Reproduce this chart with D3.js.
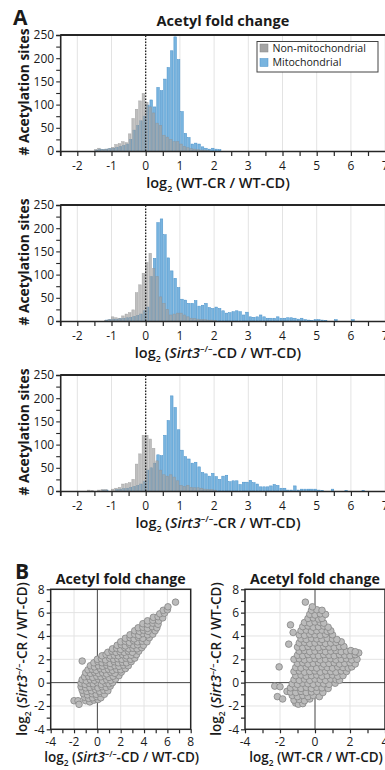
<!DOCTYPE html>
<html><head><meta charset="utf-8">
<script src="https://cdn.jsdelivr.net/npm/d3@7"></script>
<style>
body{margin:0;background:#fff}
svg{display:block}
text{font-family:"Open Sans",sans-serif;fill:#1a1a1a}
</style>
</head><body>
<svg id="chart" width="385" height="770"></svg>
<script>
// ---------- DATA ----------
// histogram bins: width 0.1, first bin centre at -1.65
const binStart = -1.65;
const binWidth = 0.1;
const seriesNames = ["Non-mitochondrial", "Mitochondrial"];
const histXTicks = [-2, -1, 0, 1, 2, 3, 4, 5, 6, 7];
const histYTicks = [0, 50, 100, 150, 200, 250];

// Panel 1: log2(WT-CR / WT-CD)
const wtcrNonMito = [0,0,3,6,3,4,5,8,14,16, 20,18,37,70,90,108,124,105,95,82, 60,55,34,30,25,20,20,15,10,7, 5,4,3,2,2,1];
const wtcrMito    = [0,0,2,4,3,4,5,6,8,10, 12,15,25,45,55,65,75,99,110,95, 137,130,155,180,216,246,197,85,38,29, 15,17,15,9,6,4,6,4,3];

// Panel 2: log2(Sirt3-/- CD / WT-CD)
const sirtcdNonMito = [0,0,0,0,0,1,3,9,7,6, 11,15,18,24,61,78,103,126,146,113, 96,52,38,25,13,15,17,17,13,9, 6,5,4,3,3,2,2,1];
const sirtcdMito    = [0,0,0,0,0,2,3,4,4,5, 6,7,8,10,12,15,22,30,96,135, 212,220,186,136,108,92,72,47,45,38, 38,44,32,34,38,29,27,30,27,22, 17,18,20,22,20,13,19,9,8,9, 13,9,6,6,6,9,6,6,7,7, 6,4,6,3,2,1,3,3,2,1, 0,0,3,0,0,0,0,3];

// Panel 3: log2(Sirt3-/- CR / WT-CD)
const sirtcrNonMito = [2,1,0,2,3,3,0,4,6,8, 15,16,18,25,58,80,120,120,112,92, 65,45,35,32,35,30,22,12,10,12, 8,7,7,6,4,3,3,2];
const sirtcrMito    = [0,0,0,0,2,2,0,0,3,4, 5,6,8,10,12,15,20,45,50,60, 78,76,120,152,205,180,132,88,74,69, 60,62,52,40,37,32,38,31,25,32, 34,20,22,22,14,19,19,23,18,15, 9,9,9,11,14,12,6,6,2,2, 11,2,4,4,4,4,4,2,1,0, 0,4,0,0,0,1,0,0,0,0, 1];

// Scatter B-left: x = log2(Sirt3-/- CD / WT-CD), y = log2(Sirt3-/- CR / WT-CD)
const scatterCD = [
[-2.0,-1.55],[-1.66,-1.55],[-1.57,-1.86],[-1.3,1.85],
[-1.0,-1.55],[-0.65,-1.65],[-0.3,-1.5],[0.05,-1.45],
[-1.1,-1.25],[-0.75,-1.35],[-0.4,-1.3],[-0.05,-1.2],[0.3,-1.3],
[-1.2,-0.95],[-0.85,-1.05],[-0.45,-0.95],[-0.1,-1.0],[0.25,-0.9],[0.6,-1.0],
[-1.3,-0.65],[-0.9,-0.75],[-0.5,-0.7],[-0.15,-0.6],[0.2,-0.75],[0.55,-0.65],[0.9,-0.7],
[-1.4,-0.35],[-1.0,-0.45],[-0.65,-0.4],[-0.3,-0.3],[0.05,-0.45],[0.4,-0.35],[0.75,-0.4],[1.1,-0.3],
[-1.4,-0.05],[-1.05,-0.15],[-0.7,-0.05],[-0.35,-0.1],[0.0,0.0],[0.35,-0.15],[0.7,-0.05],[1.0,-0.1],[1.3,0.0],
[-1.3,0.25],[-0.95,0.15],[-0.6,0.25],[-0.25,0.2],[0.1,0.3],[0.45,0.15],[0.8,0.25],[1.15,0.2],[1.55,0.3],
[-1.1,0.5],[-0.75,0.55],[-0.4,0.45],[-0.05,0.55],[0.3,0.5],[0.65,0.6],[1.0,0.45],[1.35,0.55],[1.85,0.6],
[-1.0,0.85],[-0.6,0.8],[-0.25,0.9],[0.1,0.8],[0.45,0.85],[0.8,0.75],[1.15,0.9],[1.5,0.8],[2.05,0.9],
[-0.8,1.1],[-0.45,1.15],[-0.1,1.05],[0.25,1.2],[0.6,1.1],[0.95,1.15],[1.3,1.05],[1.65,1.15],[2.0,1.1],[2.4,1.2],
[-0.6,1.45],[-0.25,1.35],[0.1,1.45],[0.45,1.4],[0.8,1.5],[1.15,1.35],[1.5,1.45],[1.85,1.4],[2.25,1.5],[2.65,1.45],
[-0.3,1.7],[0.05,1.8],[0.4,1.7],[0.75,1.75],[1.1,1.65],[1.45,1.8],[1.8,1.7],[2.15,1.75],[2.5,1.7],[2.9,1.8],
[0.0,2.0],[0.35,2.05],[0.7,1.95],[1.05,2.1],[1.4,2.0],[1.75,2.05],[2.1,2.0],[2.45,2.1],[2.85,2.0],[3.2,2.1],
[0.4,2.3],[0.75,2.4],[1.1,2.3],[1.45,2.35],[1.8,2.3],[2.15,2.4],[2.5,2.3],[2.9,2.35],[3.35,2.4],
[0.9,2.6],[1.25,2.7],[1.6,2.6],[1.95,2.65],[2.3,2.6],[2.65,2.7],[3.0,2.6],[3.55,2.7],
[1.3,2.9],[1.65,2.95],[2.0,2.85],[2.35,3.0],[2.7,2.9],[3.05,2.95],[3.4,2.9],[3.8,3.0],
[1.7,3.2],[2.05,3.25],[2.4,3.15],[2.75,3.3],[3.1,3.2],[3.45,3.25],[3.95,3.2],
[2.0,3.5],[2.4,3.55],[2.75,3.45],[3.1,3.6],[3.45,3.5],[3.85,3.55],[4.25,3.5],
[2.4,3.8],[2.8,3.85],[3.15,3.75],[3.5,3.9],[3.9,3.8],[4.45,3.85],
[2.8,4.1],[3.2,4.15],[3.55,4.05],[3.9,4.2],[4.3,4.1],[4.75,4.15],
[3.2,4.45],[3.6,4.4],[3.95,4.5],[4.35,4.4],[4.95,4.45],
[3.5,4.7],[3.9,4.75],[4.3,4.65],[4.7,4.8],[5.1,4.7],
[3.9,5.05],[4.3,5.0],[4.75,5.1],[5.2,5.0],
[4.3,5.3],[4.75,5.35],[5.25,5.3],
[4.8,5.6],[5.2,5.65],[5.6,5.55],
[5.35,5.9],[5.75,5.95],[5.65,6.2],[6.0,6.25],[6.05,6.5],[6.7,6.9]
];

// Scatter B-right: x = log2(WT-CR / WT-CD), y = log2(Sirt3-/- CR / WT-CD)
const scatterWT = [
[-2.3,-0.3],[-2.0,-0.35],[-2.05,1.35],[-2.15,-1.2],[-1.85,-1.4],[-1.6,-0.75],[-1.5,3.3],[-1.4,4.95],[-1.25,4.3],
[-1.1,-1.75],[-0.95,-1.85],[-0.7,-1.8],
[-1.2,-1.5],[-0.9,-1.45],[-0.6,-1.55],[-0.3,-1.4],
[-1.3,-1.1],[-1.0,-1.2],[-0.7,-1.1],[-0.4,-1.2],[-0.1,-1.1],[0.25,-1.2],
[-1.4,-0.8],[-1.1,-0.85],[-0.8,-0.75],[-0.5,-0.85],[-0.2,-0.8],[0.1,-0.75],[0.45,-0.85],
[-1.4,-0.45],[-1.1,-0.4],[-0.8,-0.5],[-0.5,-0.4],[-0.2,-0.5],[0.1,-0.4],[0.4,-0.45],[0.75,-0.5],
[-1.3,-0.1],[-1.0,-0.15],[-0.7,-0.05],[-0.4,-0.1],[-0.1,-0.15],[0.2,-0.05],[0.5,-0.1],[0.8,-0.15],[1.15,-0.05],
[-1.2,0.25],[-0.9,0.2],[-0.6,0.3],[-0.3,0.2],[0.0,0.3],[0.3,0.25],[0.6,0.2],[0.9,0.3],[1.2,0.25],[1.4,0.2],
[-1.1,0.6],[-0.8,0.65],[-0.5,0.55],[-0.2,0.6],[0.1,0.65],[0.4,0.55],[0.7,0.6],[1.0,0.65],[1.3,0.55],[1.6,0.6],
[-1.2,0.95],[-0.9,1.0],[-0.6,0.9],[-0.3,0.95],[0.0,1.0],[0.3,0.9],[0.6,1.0],[0.9,0.95],[1.2,0.9],[1.5,1.0],[1.8,0.95],
[-1.1,1.3],[-0.8,1.25],[-0.5,1.35],[-0.2,1.3],[0.1,1.25],[0.4,1.35],[0.7,1.3],[1.0,1.25],[1.3,1.35],[1.6,1.3],[1.9,1.25],[2.1,1.35],
[-1.0,1.65],[-0.7,1.7],[-0.4,1.6],[-0.1,1.65],[0.2,1.7],[0.5,1.6],[0.8,1.65],[1.1,1.7],[1.4,1.6],[1.7,1.65],[2.0,1.7],[2.3,1.6],
[-1.2,2.0],[-0.9,2.05],[-0.6,1.95],[-0.3,2.0],[0.0,2.05],[0.3,1.95],[0.6,2.0],[0.9,2.05],[1.2,1.95],[1.5,2.0],[1.8,2.05],[2.1,1.95],[2.4,2.0],
[-1.0,2.35],[-0.7,2.3],[-0.4,2.4],[-0.1,2.35],[0.2,2.3],[0.5,2.4],[0.8,2.35],[1.1,2.3],[1.4,2.4],[1.7,2.35],[2.0,2.3],[2.3,2.4],[2.5,2.55],
[-0.9,2.7],[-0.6,2.75],[-0.3,2.65],[0.0,2.7],[0.3,2.75],[0.6,2.65],[0.9,2.7],[1.2,2.75],[1.5,2.65],[1.8,2.7],[2.05,2.75],[2.3,2.65],
[-1.0,3.05],[-0.7,3.0],[-0.4,3.1],[-0.1,3.05],[0.2,3.0],[0.5,3.1],[0.8,3.05],[1.1,3.0],[1.4,3.1],[1.65,3.1],
[-0.9,3.4],[-0.6,3.45],[-0.3,3.35],[0.0,3.4],[0.3,3.45],[0.6,3.35],[0.9,3.4],[1.2,3.45],[1.5,3.5],
[-0.8,3.75],[-0.5,3.7],[-0.2,3.8],[0.1,3.75],[0.4,3.7],[0.7,3.8],[1.0,3.75],[1.25,3.7],
[-0.9,4.1],[-0.6,4.05],[-0.3,4.15],[0.0,4.1],[0.3,4.05],[0.6,4.15],[1.0,4.1],
[-0.8,4.45],[-0.5,4.5],[-0.2,4.4],[0.1,4.45],[0.4,4.5],[0.7,4.4],[0.9,4.45],
[-0.7,4.8],[-0.4,4.85],[-0.1,4.75],[0.2,4.8],[0.5,4.85],[0.75,4.75],
[-0.6,5.15],[-0.3,5.1],[0.0,5.2],[0.3,5.15],[0.5,5.1],
[-0.4,5.5],[-0.1,5.55],[0.2,5.45],[0.4,5.5],
[-0.3,5.85],[0.0,5.8],[0.3,5.9],[0.6,5.85],
[-0.2,6.2],[0.1,6.25],[0.4,6.2],[-0.15,6.5],[-0.55,6.9]
];
const scatterTicks = [-4, -2, 0, 2, 4, 6, 8];

// ---------- STYLE ----------
const C = {
  blue: "#78b4df", blueEdge: "#4a91c9",
  gray: "#a4a4a4", grayEdge: "#909090", axis: "#262626", grid: "#e3e3e3",
  ptFill: "#bbbbbb", ptStroke: "#858585"
};

const svg = d3.select("#chart");

function rich(g, x, y, parts, o) {
  const size = o.size || 13;
  const t = g.append("text").attr("x", x).attr("y", y)
    .attr("text-anchor", o.anchor || "middle")
    .attr("font-size", size)
    .attr("font-weight", o.weight || 600);
  if (o.rotate) t.attr("transform", `rotate(-90,${x},${y})`);
  let shift = 0;
  parts.forEach(p => {
    const ts = t.append("tspan").text(p.t);
    const target = p.sub ? size * 0.3 : p.sup ? -size * 0.38 : 0;
    if (target - shift !== 0) ts.attr("dy", target - shift);
    shift = target;
    if (p.sub || p.sup) ts.attr("font-size", size * 0.62);
    if (p.it) ts.attr("font-style", "italic");
  });
  return t;
}
const L = (rest) => [{t: "log"}, {t: "2", sub: true}, {t: " (" + rest}];
const LS = (cond) => [{t: "log"}, {t: "2", sub: true}, {t: " ("}, {t: "Sirt3", it: true}, {t: "\u2013/\u2013", sup: true}, {t: "-" + cond + " / WT-CD)"}];

// ---------- HISTOGRAMS ----------
const hx = d3.scaleLinear().domain([-2.5, 7.5]).range([60.2, 402.2]);
const pxPerUnit = hx(1) - hx(0);
const barW = pxPerUnit * binWidth * 0.75;

function histPanel(top, grayVals, blueVals, labelParts) {
  const g = svg.append("g");
  const y = d3.scaleLinear().domain([0, 250]).range([top + 116, top]);
  const x0 = hx.range()[0];
  g.selectAll(".gx").data(histXTicks).join("line")
    .attr("x1", d => hx(d)).attr("x2", d => hx(d))
    .attr("y1", y(0)).attr("y2", y(250))
    .attr("stroke", C.grid).attr("stroke-width", 1);
  const bars = (vals, fill, stroke, op, dx) => g.append("g").selectAll("rect")
    .data(vals.map((v, i) => ({c: binStart + i * binWidth, v})).filter(d => d.v > 0))
    .join("rect")
    .attr("x", d => hx(d.c) - barW / 2 + dx).attr("width", barW)
    .attr("y", d => y(d.v)).attr("height", d => y(0) - y(d.v))
    .attr("fill", fill).attr("fill-opacity", op)
    .attr("stroke", stroke).attr("stroke-width", 0.5).attr("stroke-opacity", op);
  bars(blueVals, C.blue, C.blueEdge, 1, 0.4);
  bars(grayVals, C.gray, C.grayEdge, 0.7, -0.6);
  g.append("line").attr("x1", hx(0)).attr("x2", hx(0)).attr("y1", y(0)).attr("y2", y(250))
    .attr("stroke", "#111").attr("stroke-width", 1.2).attr("stroke-dasharray", "1.5,1.5");
  g.append("line").attr("x1", x0).attr("x2", 385).attr("y1", y(250)).attr("y2", y(250))
    .attr("stroke", C.axis).attr("stroke-width", 2);
  const xa = g.append("g").attr("transform", `translate(0,${y(0)})`)
    .call(d3.axisBottom(hx).tickValues(d3.range(-2.5, 7.6, 0.5)).tickSize(5).tickFormat(""));
  xa.select(".domain").attr("stroke", C.axis).attr("stroke-width", 1.6);
  xa.selectAll(".tick line").attr("stroke", C.axis).attr("stroke-width", 1.2);
  g.selectAll(".xl").data(histXTicks).join("text")
    .attr("x", d => hx(d)).attr("y", y(0) + 19).attr("text-anchor", "middle")
    .attr("font-size", 12).text(d => d < 0 ? "-" + Math.abs(d) : d);
  const ya = g.append("g").attr("transform", `translate(${x0},0)`)
    .call(d3.axisLeft(y).tickValues(d3.range(0, 251, 25)).tickSize(4).tickFormat(""));
  ya.select(".domain").attr("stroke", C.axis).attr("stroke-width", 1.6);
  ya.selectAll(".tick line").attr("stroke", C.axis).attr("stroke-width", 1.1);
  g.selectAll(".yl").data(histYTicks).join("text")
    .attr("x", x0 - 6).attr("y", d => y(d) + 4.3).attr("text-anchor", "end")
    .attr("font-size", 12).text(d => d);
  rich(g, 29, top + 57, [{t: "# Acetylation sites"}], {size: 13.8, rotate: true, weight: 700});
  rich(g, 218, y(0) + 37, labelParts, {size: 14.5, weight: 600});
  return {g, y};
}

histPanel(35, wtcrNonMito, wtcrMito, L("WT-CR / WT-CD)"));
histPanel(205, sirtcdNonMito, sirtcdMito, LS("CD"));
histPanel(375, sirtcrNonMito, sirtcrMito, LS("CR"));

svg.append("text").attr("x", 13).attr("y", 25).attr("font-size", 21).attr("font-weight", 700).text("A");
rich(svg, 223, 26, [{t: "Acetyl fold change"}], {size: 14.5, weight: 700});

// legend
const lg = svg.append("g");
lg.append("rect").attr("x", 257).attr("y", 41.5).attr("width", 121).attr("height", 30.5)
  .attr("fill", "#fff").attr("stroke", "#444").attr("stroke-width", 1);
[[C.gray, seriesNames[0], "#888"], [C.blue, seriesNames[1], C.blueEdge]].forEach(([col, name, edge], i) => {
  lg.append("rect").attr("x", 260).attr("y", 44 + i * 14.5).attr("width", 8).attr("height", 8)
    .attr("fill", col).attr("stroke", edge).attr("stroke-width", 0.5);
  lg.append("text").attr("x", 272.5).attr("y", 51.8 + i * 14.5).attr("font-size", 10.6).text(name);
});

// ---------- SCATTERS ----------
function scatterPanel(x0, x1, xdom, pts, xlabParts, title) {
  const g = svg.append("g");
  const x = d3.scaleLinear().domain(xdom).range([x0, x1]);
  const y = d3.scaleLinear().domain([-4, 8]).range([729.3, 589.3]);
  const gx = d3.range(xdom[0] + 2, xdom[1], 2).filter(v => v !== 0);
  const gy = [-2, 2, 4, 6];
  g.selectAll(".gvx").data(gx).join("line").attr("x1", d => x(d)).attr("x2", d => x(d))
    .attr("y1", y(-4)).attr("y2", y(8)).attr("stroke", C.grid);
  g.selectAll(".gvy").data(gy).join("line").attr("y1", d => y(d)).attr("y2", d => y(d))
    .attr("x1", x0).attr("x2", x1).attr("stroke", C.grid);
  g.append("line").attr("x1", x(0)).attr("x2", x(0)).attr("y1", y(-4)).attr("y2", y(8)).attr("stroke", "#444").attr("stroke-width", 1);
  g.append("line").attr("y1", y(0)).attr("y2", y(0)).attr("x1", x0).attr("x2", x1).attr("stroke", "#444").attr("stroke-width", 1);
  g.append("g").selectAll("circle").data(pts).join("circle")
    .attr("cx", d => x(d[0])).attr("cy", d => y(d[1])).attr("r", 3.3)
    .attr("fill", C.ptFill).attr("stroke", C.ptStroke).attr("stroke-width", 0.8);
  g.append("rect").attr("x", x0).attr("y", y(8)).attr("width", x1 - x0).attr("height", y(-4) - y(8))
    .attr("fill", "none").attr("stroke", C.axis).attr("stroke-width", 1.5);
  const xa = g.append("g").attr("transform", `translate(0,${y(-4)})`)
    .call(d3.axisBottom(x).tickValues(d3.range(xdom[0], xdom[1] + 0.1, 1)).tickSize(4).tickFormat(""));
  xa.select(".domain").remove();
  xa.selectAll(".tick line").attr("stroke", C.axis).attr("stroke-width", 1.2);
  const ya = g.append("g").attr("transform", `translate(${x0},0)`)
    .call(d3.axisLeft(y).tickValues(d3.range(-4, 8.1, 1)).tickSize(4).tickFormat(""));
  ya.select(".domain").remove();
  ya.selectAll(".tick line").attr("stroke", C.axis).attr("stroke-width", 1.2);
  g.selectAll(".xl").data(scatterTicks.filter(v => v >= xdom[0] && v <= xdom[1])).join("text")
    .attr("x", d => x(d)).attr("y", 745.5).attr("text-anchor", "middle").attr("font-size", 12)
    .text(d => d < 0 ? "-" + Math.abs(d) : d);
  g.selectAll(".yl").data(scatterTicks).join("text")
    .attr("x", x0 - 6).attr("y", d => y(d) + 4.3).attr("text-anchor", "end").attr("font-size", 12)
    .text(d => d < 0 ? "-" + Math.abs(d) : d);
  rich(g, (x0 + x1) / 2, 584, [{t: title}], {size: 14.2, weight: 700});
  rich(g, (x0 + x1) / 2 + 1, 762, xlabParts, {size: 13.5, weight: 600});
  rich(g, x0 - 24, 659, LS("CR"), {size: 13.5, weight: 600, rotate: true});
}
scatterPanel(50.7, 190.7, [-4, 8], scatterCD, LS("CD"), "Acetyl fold change");
scatterPanel(245, 385, [-4, 4], scatterWT, L("WT-CR / WT-CD)"), "Acetyl fold change");
svg.append("text").attr("x", 15).attr("y", 579).attr("font-size", 21).attr("font-weight", 700).text("B");
</script>
</body></html>
